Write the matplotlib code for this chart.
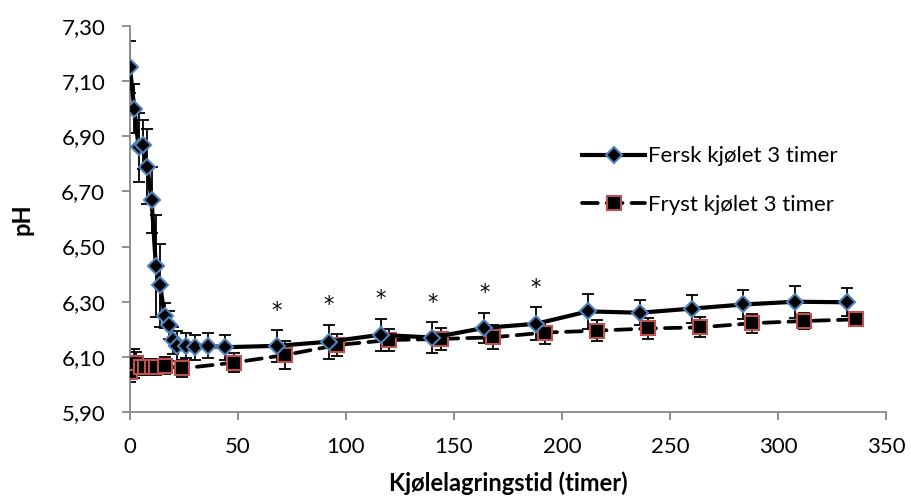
import matplotlib
matplotlib.use("Agg")
import matplotlib.pyplot as plt
from matplotlib.ticker import FuncFormatter

# pH during cold storage, fresh vs frozen meat, both chilled for 3 hours
fersk_t = [0, 2, 4, 6, 8, 10, 12, 14, 16, 18, 20, 22, 26, 30, 36, 44,
           68, 92, 116, 140, 164, 188, 212, 236, 260, 284, 308, 332]
fersk_ph = [7.15, 7.00, 6.86, 6.87, 6.79, 6.67, 6.43, 6.36, 6.25, 6.215, 6.16, 6.14,
            6.14, 6.135, 6.14, 6.135, 6.14, 6.155, 6.18, 6.17, 6.205, 6.22,
            6.265, 6.26, 6.275, 6.29, 6.30, 6.298]
fersk_err = [0.094, 0.088, 0.125, 0.088, 0.135, 0.12, 0.185, 0.15, 0.045, 0.05, 0.05,
             0.055, 0.045, 0.045, 0.045, 0.045, 0.057, 0.062, 0.058, 0.055, 0.055,
             0.06, 0.064, 0.045, 0.051, 0.053, 0.058, 0.051]

fryst_t = [0, 2, 3, 5, 7, 10, 12, 16, 24, 48, 72, 96, 120, 144, 168, 192,
           216, 240, 264, 288, 312, 336]
fryst_ph = [6.046, 6.076, 6.079, 6.064, 6.064, 6.064, 6.064, 6.068, 6.058, 6.079,
            6.107, 6.143, 6.161, 6.165, 6.171, 6.188, 6.195, 6.203, 6.207, 6.222,
            6.230, 6.236]
fryst_err = [0.036, 0.054, 0.04, 0.03, 0.03, 0.03, 0.03, 0.03, 0.03, 0.035, 0.051,
             0.04, 0.039, 0.04, 0.044, 0.042, 0.039, 0.039, 0.036, 0.034, 0.03, 0.025]

# time points with a significant difference
signif_t = [68, 92, 116, 140, 164, 188]

plt.rcParams["font.family"] = ["Lato", "DejaVu Sans"]

fig = plt.figure(figsize=(9.12, 4.97), dpi=100)
ax = fig.add_axes([0.1425, 0.171, 0.829, 0.7767])

ax.errorbar(fryst_t, fryst_ph, yerr=fryst_err, fmt="none", ecolor="black",
            elinewidth=1.3, capsize=4, capthick=1.3, zorder=2)
ax.errorbar(fersk_t, fersk_ph, yerr=fersk_err, fmt="none", ecolor="black",
            elinewidth=1.3, capsize=4, capthick=1.3, zorder=2)

ax.plot(fryst_t, fryst_ph, color="black", lw=2.7, dashes=(4.2, 2.4),
        dash_capstyle="round", marker="s", markersize=9.5,
        markerfacecolor="black", markeredgecolor="#C0504D", markeredgewidth=1.5,
        label="Fryst kjølet 3 timer", zorder=3)
ax.plot(fersk_t, fersk_ph, color="black", lw=3.0, solid_joinstyle="round",
        marker="D", markersize=8, markerfacecolor="black",
        markeredgecolor="#4F81BD", markeredgewidth=1.5,
        label="Fersk kjølet 3 timer", zorder=4)

# stars above the upper error bar
for t in signif_t:
    i = fersk_t.index(t)
    ax.annotate("*", (t, fersk_ph[i] + fersk_err[i]), xytext=(0, 14),
                textcoords="offset points", ha="center", va="center",
                fontsize=15, family="DejaVu Sans")

ax.set_xlim(0, 350)
ax.set_ylim(5.90, 7.30)
ax.set_xticks(range(0, 351, 50))
ax.set_yticks([5.90 + 0.2 * k for k in range(8)])
ax.yaxis.set_major_formatter(FuncFormatter(lambda v, p: f"{v:.2f}".replace(".", ",")))

for side in ("top", "right"):
    ax.spines[side].set_visible(False)
for side in ("left", "bottom"):
    ax.spines[side].set_color("#888888")
    ax.spines[side].set_linewidth(1.3)
ax.tick_params(axis="both", direction="out", length=5.8, width=1.3, color="#888888",
               labelsize=16, labelcolor="black")
ax.tick_params(axis="y", pad=12)
ax.tick_params(axis="x", pad=12)

ax.set_xlabel("Kjølelagringstid (timer)", fontsize=17, fontweight="bold", labelpad=10.5)
ax.set_ylabel("pH", fontsize=17, fontweight="bold", labelpad=20)

handles, labels = ax.get_legend_handles_labels()
ax.legend(handles[::-1], labels[::-1], loc="upper left",
          bbox_to_anchor=(0.572, 0.74), frameon=False, fontsize=16,
          handlelength=2.8, labelspacing=1.3, handletextpad=0.15, numpoints=1)

fig.savefig("out.png", dpi=100)
